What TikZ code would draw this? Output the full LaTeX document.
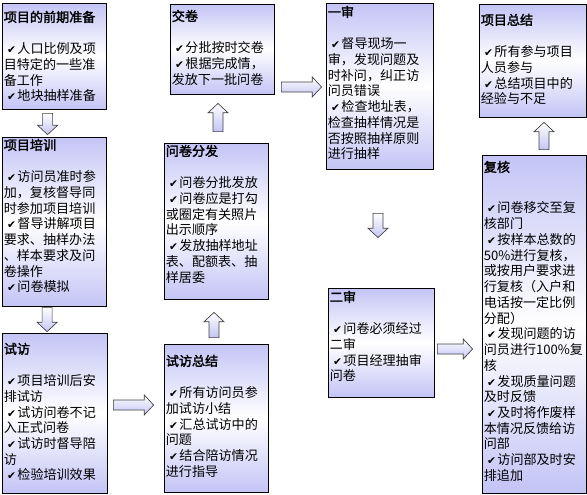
\documentclass[tikz,border=0pt]{standalone}
\usepackage{fontspec}
\newfontfamily\cjkfont[AutoFakeBold=2]{Noto Sans CJK SC}
\newfontfamily\dejavu{DejaVu Sans}
\usepackage{tikz}
\usetikzlibrary{calc,fit}

\definecolor{boxblue}{RGB}{196,196,246}
\newcommand{\chk}{\hspace*{2.5pt}{\dejavu\fontsize{8pt}{11.8pt}\selectfont ✔}\hspace{1pt}}
% block arrow from #1 to #2
\newcommand{\blockarrow}[2]{%
  \draw[barrow] ($(#1)!3.75pt!90:(#2)$)
    -- ($(#2)!7pt!(#1)!3.75pt!-90:(#1)$)
    -- ($(#2)!7pt!(#1)!7.5pt!-90:(#1)$)
    -- (#2)
    -- ($(#2)!7pt!(#1)!7.5pt!90:(#1)$)
    -- ($(#2)!7pt!(#1)!3.75pt!90:(#1)$)
    -- ($(#1)!3.75pt!-90:(#2)$) -- cycle;}

\tikzset{
  box/.style={draw=black, line width=0.6pt, inner sep=0pt,
    top color=boxblue, bottom color=boxblue, middle color=white},
  boxtext/.style={anchor=north west, align=left, inner sep=0pt,
    font=\cjkfont\fontsize{9.8pt}{11.8pt}\selectfont},
  barrow/.style={draw=black!75, line width=0.5pt, top color=white, bottom color=boxblue},
}

\begin{document}
\begin{tikzpicture}[x=0.75pt,y=-0.75pt]
\useasboundingbox (0,0) rectangle (587,494);

% Boxes
\node[box, fit={(2,3) (106,109)}] (b1) {};
\node[box, fit={(2,137) (106,306)}] (b2) {};
\node[box, fit={(2,333) (107,493)}] (b3) {};
\node[box, fit={(164,344) (268,492)}] (b4) {};
\node[box, fit={(164,143) (268,299)}] (b5) {};
\node[box, fit={(170,4) (274,94)}] (b6) {};
\node[box, fit={(326,3) (433,169)}] (b7) {};
\node[box, fit={(328,288) (434,397)}] (b8) {};
\node[box, fit={(482,155) (586,493)}] (b9) {};
\node[box, fit={(479,4) (586,117)}] (b10) {};

% Texts
\node[boxtext] (t1) at ([shift={(2,8)}]b1.north west) {{\bfseries 项目的前期准备}\\[12pt]
\chk 人口比例及项\\目特定的一些准\\备工作\\\chk 地块抽样准备};
\node[boxtext] (t2) at ([shift={(2,2)}]b2.north west) {{\bfseries 项目培训}\\[12pt]
\chk 访问员准时参\\加，复核督导同\\时参加项目培训\\\chk 督导讲解项目\\要求、抽样办法\\、样本要求及问\\卷操作\\\chk 问卷模拟};
\node[boxtext] (t3) at ([shift={(2,10)}]b3.north west) {{\bfseries 试访}\\[12pt]
\chk 项目培训后安\\排试访\\\chk 试访问卷不记\\入正式问卷\\\chk 试访时督导陪\\访\\\chk 检验培训效果};
\node[boxtext] (t4) at ([shift={(2,11)}]b4.north west) {{\bfseries 试访总结}\\[12pt]
\chk 所有访问员参\\加试访小结\\\chk 汇总试访中的\\问题\\\chk 结合陪访情况\\进行指导};
\node[boxtext] (t5) at ([shift={(2,2)}]b5.north west) {{\bfseries 问卷分发}\\[12pt]
\chk 问卷分批发放\\\chk 问卷应是打勾\\或圈定有关照片\\出示顺序\\\chk 发放抽样地址\\表、配额表、抽\\样居委};
\node[boxtext] (t6) at ([shift={(2,6)}]b6.north west) {{\bfseries 交卷}\\[12pt]
\chk 分批按时交卷\\\chk 根据完成情，\\发放下一批问卷};
\node[boxtext] (t7) at ([shift={(2,3)}]b7.north west) {{\bfseries 一审}\\[12pt]
\chk 督导现场一\\审，发现问题及\\时补问，纠正访\\问员错误\\\chk 检查地址表，\\检查抽样情况是\\否按照抽样原则\\进行抽样};
\node[boxtext] (t8) at ([shift={(2,3)}]b8.north west) {{\bfseries 二审}\\[12pt]
\chk 问卷必须经过\\二审\\\chk 项目经理抽审\\问卷};
\node[boxtext] (t9) at ([shift={(2,6)}]b9.north west) {{\bfseries 复核}\\[19pt]
\chk 问卷移交至复\\核部门\\\chk 按样本总数的\\50\%进行复核，\\或按用户要求进\\行复核（入户和\\电话按一定比例\\分配）\\\chk 发现问题的访\\问员进行100\%复\\核\\\chk 发现质量问题\\及时反馈\\\chk 及时将作废样\\本情况反馈给访\\问部\\\chk 访问部及时安\\排追加};
\node[boxtext] (t10) at ([shift={(2,10)}]b10.north west) {{\bfseries 项目总结}\\[12pt]
\chk 所有参与项目\\人员参与\\\chk 总结项目中的\\经验与不足};

% Arrow ends
\coordinate (a1s) at ([shift={(46,4)}]b1.south west);
\coordinate (a1e) at ([shift={(46,-2)}]b2.north west);
\coordinate (a2s) at ([shift={(45.5,1)}]b2.south west);
\coordinate (a2e) at ([shift={(45.5,-1)}]b3.north west);
\coordinate (a3s) at ([shift={(6,-8)}]b3.east);
\coordinate (a3e) at ([shift={(-10,-13)}]b4.west);
\coordinate (a4s) at ([shift={(-2,-6)}]b4.north);
\coordinate (a4e) at ([shift={(-2,13)}]b5.south);
\coordinate (a5s) at ([shift={(2,-11)}]b5.north);
\coordinate (a5e) at ([shift={(-4,9)}]b6.south);
\coordinate (a6s) at ([shift={(7,38)}]b6.east);
\coordinate (a6e) at ([shift={(-4,1)}]b7.west);
\coordinate (a7s) at ([shift={(-1.5,44)}]b7.south);
\coordinate (a7e) at ([shift={(-3,-50)}]b8.north);
\coordinate (a8s) at ([shift={(3,6.5)}]b8.east);
\coordinate (a8e) at ([shift={(-9,25)}]b9.west);
\coordinate (a9s) at ([shift={(10,-5)}]b9.north);
\coordinate (a9e) at ([shift={(11.5,5)}]b10.south);

% Arrows
\blockarrow{a1s}{a1e}
\blockarrow{a2s}{a2e}
\blockarrow{a3s}{a3e}
\blockarrow{a4s}{a4e}
\blockarrow{a5s}{a5e}
\blockarrow{a6s}{a6e}
\blockarrow{a7s}{a7e}
\blockarrow{a8s}{a8e}
\blockarrow{a9s}{a9e}
\end{tikzpicture}
\end{document}
